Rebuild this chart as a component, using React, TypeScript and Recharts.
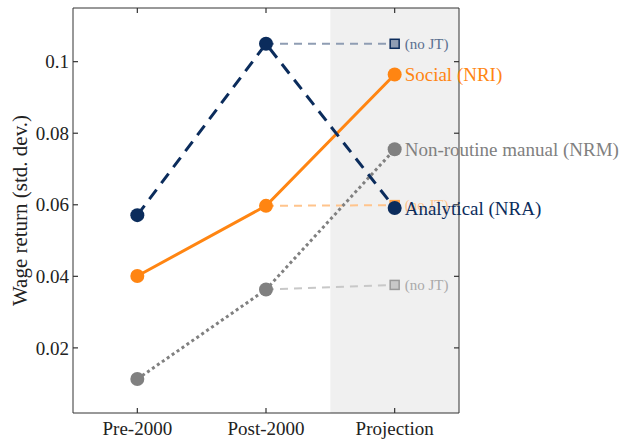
import { LineChart, Line, XAxis, YAxis, ReferenceArea } from "recharts";

const categories = ["Pre-2000", "Post-2000", "Projection"];
const analytical = [0.0571, 0.105, 0.0591];
const social = [0.0401, 0.0597, 0.0964];
const manual = [0.0113, 0.0363, 0.0755];
const analyticalNoJT = [null, 0.105, 0.105];
const socialNoJT = [null, 0.0597, 0.0599];
const manualNoJT = [null, 0.0363, 0.0376];
const yTicks = [0.02, 0.04, 0.06, 0.08, 0.1];

const NAVY = "#0b2c5c";
const ORANGE = "#ff8512";
const GREY = "#808080";
const FONT = "'Liberation Serif', serif";
const AXIS = "#333";

const data = categories.map((c, i) => ({
  x: i,
  name: c,
  nra: analytical[i],
  nri: social[i],
  nrm: manual[i],
  nraNo: analyticalNoJT[i],
  nriNo: socialNoJT[i],
  nrmNo: manualNoJT[i],
}));

const fmtY = (v: number) => (v === 0.1 ? "0.1" : v.toFixed(2));

function BottomTick({ x, y, payload }: any) {
  return (
    <g>
      <line x1={x} x2={x} y1={y} y2={y - 5} stroke={AXIS} strokeWidth={1.2} />
      <text x={x} y={y + 22} textAnchor="middle" fontFamily={FONT} fontSize={19} fill="#222">
        {categories[payload.value]}
      </text>
    </g>
  );
}

function TopTick({ x, y }: any) {
  return <line x1={x} x2={x} y1={y} y2={y + 5} stroke={AXIS} strokeWidth={1.2} />;
}

function LeftTick({ x, y, payload }: any) {
  return (
    <g>
      <line x1={x} x2={x + 5} y1={y} y2={y} stroke={AXIS} strokeWidth={1.2} />
      <text x={x - 4} y={y} dy="0.35em" textAnchor="end" fontFamily={FONT} fontSize={19} fill="#222">
        {fmtY(payload.value)}
      </text>
    </g>
  );
}

function RightTick({ x, y }: any) {
  return <line x1={x} x2={x - 5} y1={y} y2={y} stroke={AXIS} strokeWidth={1.2} />;
}

function endLabel(text: string, color: string, size: number) {
  return (props: any) => {
    if (props.index !== 2) return null;
    return (
      <text x={props.x + 10} y={props.y} dy="0.35em" fontFamily={FONT} fontSize={size} fill={color}>
        {text}
      </text>
    );
  };
}

function squareDot(fill: string, stroke: string) {
  return (props: any) => {
    if (props.index !== 2 || props.cy == null) return <g key={props.index} />;
    return (
      <rect key={props.index} x={props.cx - 4.5} y={props.cy - 4.5} width={9} height={9}
        fill={fill} stroke={stroke} strokeWidth={1.5} />
    );
  };
}

export default function App() {
  return (
    <div style={{ position: "absolute", left: 0, top: 0, background: "#fff" }}>
      <LineChart width={640} height={439} data={data}
        margin={{ top: 7, right: 180, bottom: 0, left: 0 }}>
        <ReferenceArea x1={1.5} x2={2.5} fill="#f0f0f0" fillOpacity={1} stroke="none" ifOverflow="hidden" />
        <XAxis dataKey="x" type="number" domain={[-0.5, 2.5]} ticks={[0, 1, 2]} height={26}
          axisLine={{ stroke: AXIS }} tickLine={false} tickSize={0} tickMargin={0}
          tick={<BottomTick />} interval={0} />
        <XAxis xAxisId="top" orientation="top" dataKey="x" type="number" domain={[-0.5, 2.5]}
          ticks={[0, 1, 2]} height={1} axisLine={{ stroke: AXIS }} tickLine={false}
          tickSize={0} tickMargin={0} tick={<TopTick />} interval={0} />
        <YAxis type="number" domain={[0.0018, 0.115]} ticks={yTicks} width={73}
          axisLine={{ stroke: AXIS }} tickLine={false} tickSize={0} tickMargin={0}
          tick={<LeftTick />} interval={0}
          label={(p: any) => {
            const vb = p.viewBox;
            const cx = vb.x + 20;
            const cy = vb.y + vb.height / 2;
            return (
              <text x={cx} y={cy} transform={`rotate(-90 ${cx} ${cy})`} textAnchor="middle"
                dy="0.35em" fontFamily={FONT} fontSize={21} fill="#222">
                Wage return (std. dev.)
              </text>
            );
          }} />
        <YAxis yAxisId="right" orientation="right" type="number" domain={[0.0018, 0.115]}
          ticks={yTicks} width={1} axisLine={{ stroke: AXIS }} tickLine={false}
          tickSize={0} tickMargin={0} tick={<RightTick />} interval={0} />

        <Line xAxisId="top" yAxisId="right" dataKey="nra" stroke="none" dot={false}
          activeDot={false} isAnimationActive={false} legendType="none" />

        <Line dataKey="nraNo" stroke="#8f9db3" strokeWidth={2} strokeDasharray="8 6"
          dot={squareDot("#8f9db3", NAVY)} label={endLabel("(no JT)", "#5a6f8f", 15)}
          isAnimationActive={false} connectNulls={false} />
        <Line dataKey="nriNo" stroke="#ffc48c" strokeWidth={2} strokeDasharray="8 6"
          dot={squareDot("#ffb36b", "#ff9d40")} label={endLabel("(no JT)", "#ffc48c", 15)}
          isAnimationActive={false} connectNulls={false} />
        <Line dataKey="nrmNo" stroke="#c8c8c8" strokeWidth={2} strokeDasharray="8 6"
          dot={squareDot("#c8c8c8", "#999")} label={endLabel("(no JT)", "#aaa", 15)}
          isAnimationActive={false} connectNulls={false} />

        <Line dataKey="nrm" stroke={GREY} strokeWidth={3} strokeDasharray="3 3"
          dot={{ r: 7, fill: GREY, stroke: "none" }}
          label={endLabel("Non-routine manual (NRM)", GREY, 19)} isAnimationActive={false} />
        <Line dataKey="nri" stroke={ORANGE} strokeWidth={3}
          dot={{ r: 7, fill: ORANGE, stroke: "none" }}
          label={endLabel("Social (NRI)", ORANGE, 19)} isAnimationActive={false} />
        <Line dataKey="nra" stroke={NAVY} strokeWidth={3} strokeDasharray="12 8"
          dot={{ r: 7, fill: NAVY, stroke: "none" }}
          label={endLabel("Analytical (NRA)", NAVY, 19)} isAnimationActive={false} />
      </LineChart>
    </div>
  );
}
